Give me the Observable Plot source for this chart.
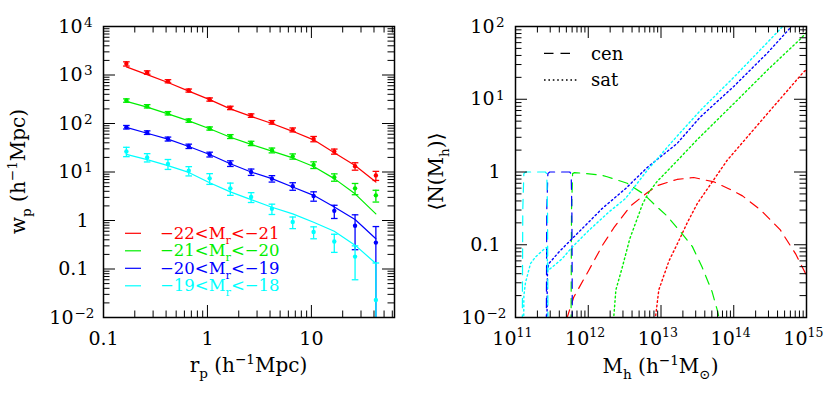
<!DOCTYPE html>
<html><head><meta charset="utf-8">
<script src="https://cdn.jsdelivr.net/npm/d3@7"></script>
<script src="https://cdn.jsdelivr.net/npm/@observablehq/plot@0.6"></script>
<style>
body{margin:0;background:#fff}
#wrap{display:flex;width:830px;height:397px;overflow:hidden}
#wrap svg{flex:none}
</style>
</head><body><div id="wrap"></div>
<script>
// ---------- LEFT PANEL DATA: projected correlation function ----------
const rp = [0.166, 0.263, 0.417, 0.661, 1.05, 1.66, 2.63, 4.17, 6.61, 10.5, 16.6, 26.3, 41.7];
const magBright = [-22, -21, -20, -19];
const magFaint  = [-21, -20, -19, -18];
const wpRed   = [1700, 1127, 745, 479, 313, 210, 146, 106, 74, 48, 26.5, 13.2, 8.5];
const errRed  = [170, 90, 55, 35, 24, 17, 12, 9, 7, 6, 3.2, 2.3, 1.8];
const modRed  = [1475, 1020, 700, 465, 310, 200, 140, 100, 69, 46, 25, 13.6, 6.2];
const wpGreen  = [298, 227, 163, 115, 79, 54, 39, 28, 21, 14, 7.8, 4.6, 3.3];
const errGreen = [24, 18, 13, 9, 6, 5, 4, 3.2, 2.6, 2.2, 1.35, 1.2, 0.9];
const modGreen = [285, 217, 158, 113, 78, 52, 37, 27, 19.5, 13, 7.3, 3.55, 1.37];
const wpBlue  = [84, 65, 48, 34, 23, 15, 10, 7.3, 5.1, 3.2, 1.58, 0.78, 0.35];
const errBlue = [7, 5.5, 4.5, 3.5, 2.6, 2.0, 1.5, 1.1, 0.9, 0.7, 0.48, 0.53, 0.4];
const modBlue = [83, 63, 47.5, 33.6, 23, 14.8, 10, 7.3, 4.9, 3.3, 1.9, 1.05, 0.42];
const wpCyan  = [26.5, 20, 14.7, 10.6, 7.4, 4.6, 3.05, 1.75, 0.93, 0.58, 0.37, 0.18, 0.023];
const errCyan = [5.8, 3.9, 3.4, 2.3, 1.85, 1.3, 0.7, 0.42, 0.25, 0.16, 0.15, 0.12, 0.11];
const modCyan = [23, 18, 13.5, 9.8, 6.0, 3.9, 2.7, 1.88, 1.37, 0.92, 0.6, 0.31, 0.13];

// ---------- RIGHT PANEL DATA: halo occupation (log10 Mh, <N>) ----------
const cenCyanLogM = [11.09, 11.10, 11.115, 11.14, 11.41, 11.43, 11.44, 11.45];
const cenCyanN    = [0.001, 0.3, 0.95, 1, 1, 0.95, 0.3, 0.001];
const cenBlueLogM = [11.42, 11.43, 11.445, 11.47, 11.745, 11.765, 11.775, 11.785];
const cenBlueN    = [0.001, 0.3, 0.95, 1, 1, 0.95, 0.3, 0.001];
const cenGreenLogM = [11.76, 11.77, 11.785, 11.81, 11.94, 12.19, 12.26, 12.535, 12.76, 12.92, 13.08, 13.27, 13.43, 13.566, 13.70, 13.77, 13.82];
const cenGreenN    = [0.001, 0.3, 0.95, 0.98, 0.96, 0.9, 0.86, 0.70, 0.5, 0.35, 0.25, 0.15, 0.095, 0.049, 0.023, 0.013, 0.008];
const cenRedLogM = [11.60, 11.71, 11.80, 12.01, 12.20, 12.35, 12.58, 12.81, 12.95, 13.22, 13.45, 13.73, 13.93, 14.12, 14.37, 14.64, 14.85, 15.0];
const cenRedN    = [0.006, 0.01, 0.019, 0.045, 0.1, 0.17, 0.34, 0.52, 0.65, 0.79, 0.84, 0.73, 0.59, 0.47, 0.30, 0.16, 0.075, 0.038];
const satCyanLogM = [11.108, 11.115, 11.137, 11.206, 11.275, 11.41, 11.435, 11.44, 11.48, 11.64, 11.78, 12.01, 12.28, 12.51, 12.81, 13.13, 13.54, 14.0, 14.46, 14.7];
const satCyanN    = [0.001, 0.02, 0.03, 0.055, 0.068, 0.09, 0.092, 0.045, 0.047, 0.064, 0.093, 0.158, 0.28, 0.43, 1.05, 2.46, 7.0, 20, 60, 107];
const satBlueLogM = [11.428, 11.435, 11.44, 11.458, 11.595, 11.733, 11.962, 12.19, 12.512, 12.81, 13.22, 13.54, 14.0, 14.46, 14.82];
const satBlueN    = [0.001, 0.02, 0.045, 0.055, 0.079, 0.109, 0.185, 0.314, 0.59, 1.15, 2.46, 5.7, 15, 43, 107];
const satGreenLogM = [12.34, 12.35, 12.38, 12.47, 12.57, 12.75, 12.83, 12.95, 13.02, 13.27, 13.5, 14.0, 14.46, 14.92, 15.0];
const satGreenN    = [0.001, 0.01, 0.024, 0.05, 0.12, 0.37, 0.52, 0.75, 0.88, 1.6, 2.8, 8.7, 25, 68, 83];
const satRedLogM = [12.91, 12.924, 12.97, 13.11, 13.27, 13.36, 13.5, 13.72, 13.91, 14.46, 14.96, 15.0];
const satRedN    = [0.001, 0.01, 0.024, 0.06, 0.128, 0.2, 0.37, 0.77, 1.45, 6.3, 23.7, 25.5];

// ---------- tick labels ----------
const lxTicks = [0.1, 1, 10];
const lxLabels = ["0.1", "1", "10"];
const lyTicks = [0.01, 0.1, 1, 10, 100, 1000, 10000];
const lyBase = ["10", "0.1", "1", "10", "10", "10", "10"];
const lyExp  = ["−2", "", "", "1", "2", "3", "4"];
const rxTicks = [1e11, 1e12, 1e13, 1e14, 1e15];
const rxBase = ["10", "10", "10", "10", "10"];
const rxExp  = ["11", "12", "13", "14", "15"];
const ryTicks = [0.01, 0.1, 1, 10, 100];
const ryBase = ["10", "0.1", "1", "10", "10"];
const ryExp  = ["−2", "", "", "1", "2"];

// ---------- styling ----------
const COLORS = ["#ff0000", "#00ee00", "#0000ff", "#00ffff"];
const FONT = "DejaVu Serif";
const FRAME = 291;
const DASH = "9.5,7";
const DOT = "1.6,2.8";

function minors(e0, e1, maxV = Infinity) {
  const out = [];
  for (let e = e0; e < e1; e++) for (let k = 2; k <= 9; k++) { const v = k * Math.pow(10, e); if (v <= maxV) out.push(v); }
  return out;
}
function tickMarks(xMaj, xMin, yMaj, yMin) {
  const s = {stroke: "black", strokeWidth: 1};
  return [
    Plot.tickX(xMaj, {x: d => d, insetTop: FRAME - 12, ...s}),
    Plot.tickX(xMaj, {x: d => d, insetBottom: FRAME - 12, ...s}),
    Plot.tickX(xMin, {x: d => d, insetTop: FRAME - 6.5, ...s}),
    Plot.tickX(xMin, {x: d => d, insetBottom: FRAME - 6.5, ...s}),
    Plot.tickY(yMaj, {y: d => d, insetRight: FRAME - 12, ...s}),
    Plot.tickY(yMaj, {y: d => d, insetLeft: FRAME - 12, ...s}),
    Plot.tickY(yMin, {y: d => d, insetRight: FRAME - 6.5, ...s}),
    Plot.tickY(yMin, {y: d => d, insetLeft: FRAME - 6.5, ...s})
  ];
}
function yLabelMarks(ticks, base, exp) {
  const rows = ticks.map((v, i) => ({v, b: base[i], e: exp[i]}));
  const plain = rows.filter(d => !d.e), pos = rows.filter(d => d.e && d.e[0] !== "−"), neg = rows.filter(d => d.e && d.e[0] === "−");
  return [
    Plot.text(plain, {y: "v", text: "b", frameAnchor: "left", textAnchor: "end", dx: -15, fontSize: 19}),
    Plot.text(pos, {y: "v", text: "b", frameAnchor: "left", textAnchor: "end", dx: -21, fontSize: 19}),
    Plot.text(pos, {y: "v", text: "e", frameAnchor: "left", textAnchor: "start", dx: -19.5, dy: -4, fontSize: 13.5}),
    Plot.text(neg, {y: "v", text: "b", frameAnchor: "left", textAnchor: "end", dx: -30, fontSize: 19}),
    Plot.text(neg, {y: "v", text: "e", frameAnchor: "left", textAnchor: "start", dx: -29, dy: -4, fontSize: 13.5})
  ];
}
const capSymbol = {draw(ctx, size) { const w = Math.sqrt(size / Math.PI); ctx.moveTo(-w, 0); ctx.lineTo(w, 0); }};

function rich(svg, {x, y, parts, size, anchor = "start", rotate = 0, fill = "black"}) {
  const t = d3.select(svg).append("text")
    .attr("transform", `translate(${x},${y}) rotate(${rotate})`)
    .attr("text-anchor", anchor).attr("font-size", size).attr("fill", fill)
    .attr("font-family", FONT);
  let shift = 0;
  for (const [s, k] of parts) {
    const target = k === 1 ? 0.3 * size : k === 2 ? -0.42 * size : 0;
    t.append("tspan").attr("dy", target - shift).attr("font-size", k ? 0.68 * size : size).text(s);
    shift = target;
  }
}

// ---------- LEFT PLOT ----------
const wpSeries = [[wpRed, errRed, modRed], [wpGreen, errGreen, modGreen], [wpBlue, errBlue, modBlue], [wpCyan, errCyan, modCyan]];
const leftMarks = [];
wpSeries.forEach(([wp, err, mod], si) => {
  const col = COLORS[si];
  const rows = rp.map((r, i) => ({r, wp: wp[i], mod: mod[i], lo: Math.max(wp[i] - err[i], 1e-5), hi: wp[i] + err[i]}));
  leftMarks.push(
    Plot.line(rows, {x: "r", y: "mod", stroke: col, strokeWidth: 1.2, clip: true}),
    Plot.ruleX(rows, {x: "r", y1: "lo", y2: "hi", stroke: col, strokeWidth: 1.3, clip: true}),
    Plot.dot(rows, {x: "r", y: "hi", symbol: capSymbol, r: 3.3, stroke: col, fill: "none", strokeWidth: 1.3, clip: true}),
    Plot.dot(rows.filter(d => d.lo > 0.01), {x: "r", y: "lo", symbol: capSymbol, r: 3.3, stroke: col, fill: "none", strokeWidth: 1.3, clip: true}),
    Plot.dot(rows, {x: "r", y: "wp", r: 2.2, fill: col, stroke: "none", clip: true})
  );
});
const left = Plot.plot({
  width: 415, height: 397,
  marginLeft: 103, marginRight: 21, marginTop: 26, marginBottom: 80,
  style: {fontFamily: FONT, fontSize: "19px", background: "white"},
  x: {type: "log", domain: [0.1, 63], axis: null},
  y: {type: "log", domain: [0.01, 10000], axis: null},
  marks: [
    ...leftMarks,
    ...tickMarks(lxTicks, minors(-1, 2, 63), lyTicks, minors(-2, 4)),
    Plot.text(lxTicks.map((v, i) => ({v, t: lxLabels[i]})), {x: "v", text: "t", frameAnchor: "bottom", lineAnchor: "bottom", dy: 27, fontSize: 19}),
    ...yLabelMarks(lyTicks, lyBase, lyExp),
    Plot.frame({stroke: "black", strokeWidth: 1.5})
  ]
});

// ---------- RIGHT PLOT ----------
const hod = [
  [cenRedLogM, cenRedN, satRedLogM, satRedN],
  [cenGreenLogM, cenGreenN, satGreenLogM, satGreenN],
  [cenBlueLogM, cenBlueN, satBlueLogM, satBlueN],
  [cenCyanLogM, cenCyanN, satCyanLogM, satCyanN]
];
const rightMarks = [];
hod.forEach(([cm, cn, sm, sn], si) => {
  const col = COLORS[si];
  rightMarks.push(
    Plot.line(cm.map((m, i) => ({M: Math.pow(10, m), N: cn[i]})), {x: "M", y: "N", stroke: col, strokeWidth: 1.2, strokeDasharray: DASH, clip: true}),
    Plot.line(sm.map((m, i) => ({M: Math.pow(10, m), N: sn[i]})), {x: "M", y: "N", stroke: col, strokeWidth: 1.4, strokeDasharray: DOT, clip: true})
  );
});
const right = Plot.plot({
  width: 415, height: 397,
  marginLeft: 100, marginRight: 24, marginTop: 26, marginBottom: 80,
  style: {fontFamily: FONT, fontSize: "19px", background: "white", overflow: "visible"},
  x: {type: "log", domain: [1e11, 1e15], axis: null},
  y: {type: "log", domain: [0.01, 100], axis: null},
  marks: [
    ...rightMarks,
    ...tickMarks(rxTicks, minors(11, 15), ryTicks, minors(-2, 2)),
    Plot.text(rxTicks.map((v, i) => ({v, t: rxBase[i]})), {x: "v", text: "t", frameAnchor: "bottom", lineAnchor: "bottom", textAnchor: "end", dx: 1, dy: 27, fontSize: 19}),
    Plot.text(rxTicks.map((v, i) => ({v, t: rxExp[i]})), {x: "v", text: "t", frameAnchor: "bottom", lineAnchor: "bottom", textAnchor: "start", dx: 1, dy: 19, fontSize: 12.5}),
    ...yLabelMarks(ryTicks, ryBase, ryExp),
    Plot.frame({stroke: "black", strokeWidth: 1.5})
  ]
});

// ---------- axis titles & legends ----------
rich(left, {x: 25, y: 171.5, rotate: -90, anchor: "middle", size: 20,
  parts: [["w", 0], ["p", 1], [" (h", 0], ["−1", 2], ["Mpc)", 0]]});
rich(left, {x: 248.5, y: 372, anchor: "middle", size: 20,
  parts: [["r", 0], ["p", 1], [" (h", 0], ["−1", 2], ["Mpc)", 0]]});
magBright.forEach((b, i) => {
  const y = 233.3 + i * 17.5;
  d3.select(left).append("line").attr("x1", 125).attr("x2", 141).attr("y1", y).attr("y2", y)
    .attr("stroke", COLORS[i]).attr("stroke-width", 1.2);
  rich(left, {x: 160, y: y + 5.5, size: 16.5, fill: COLORS[i],
    parts: [[`−${-b}<M`, 0], ["r", 1], [`<−${-magFaint[i]}`, 0]]});
});

rich(right, {x: 28, y: 171.5, rotate: -90, anchor: "middle", size: 20,
  parts: [["⟨N(M", 0], ["h", 1], [")⟩", 0]]});
rich(right, {x: 245.5, y: 373, anchor: "middle", size: 20,
  parts: [["M", 0], ["h", 1], [" (h", 0], ["−1", 2], ["M", 0], ["⊙", 1], [")", 0]]});
d3.select(right).append("line").attr("x1", 129).attr("x2", 156).attr("y1", 53.3).attr("y2", 53.3)
  .attr("stroke", "black").attr("stroke-width", 1.2).attr("stroke-dasharray", DASH);
rich(right, {x: 176, y: 59.5, size: 18, parts: [["cen", 0]]});
d3.select(right).append("line").attr("x1", 129).attr("x2", 163).attr("y1", 80).attr("y2", 80)
  .attr("stroke", "black").attr("stroke-width", 1.4).attr("stroke-dasharray", DOT);
rich(right, {x: 176, y: 86, size: 18, parts: [["sat", 0]]});

const wrap = document.getElementById("wrap");
wrap.append(left, right);
</script>
</body></html>
